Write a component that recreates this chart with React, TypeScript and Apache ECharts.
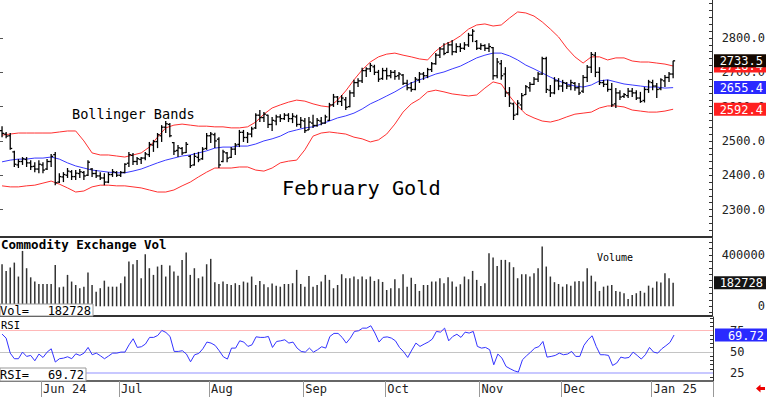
import React, { useEffect, useRef } from "react";
import * as echarts from "echarts";

// ---------- data ----------
const opens = [
  2530, 2520, 2515, 2468, 2430, 2440, 2446, 2436, 2426, 2418,
  2430, 2418, 2440, 2460, 2380, 2395, 2400, 2410, 2396, 2405,
  2408, 2400, 2418, 2405, 2398, 2392, 2380, 2402, 2408, 2400,
  2408, 2435, 2458, 2440, 2446, 2450, 2460, 2488, 2498, 2515,
  2540, 2548, 2495, 2472, 2478, 2466, 2455, 2430, 2452, 2448,
  2478, 2515, 2518, 2505, 2440, 2465, 2452, 2476, 2490, 2525,
  2510, 2520, 2538, 2575, 2568, 2575, 2548, 2558, 2570, 2565,
  2575, 2565, 2570, 2548, 2558, 2532, 2552, 2545, 2558, 2552,
  2560, 2605, 2628, 2615, 2620, 2600, 2640, 2670, 2675, 2705,
  2710, 2716, 2700, 2682, 2705, 2690, 2700, 2690, 2692, 2668,
  2655, 2650, 2678, 2695, 2690, 2708, 2725, 2750, 2768, 2758,
  2780, 2760, 2775, 2770, 2780, 2808, 2790, 2770, 2778, 2770,
  2772, 2690, 2725, 2695, 2640, 2608, 2578, 2605, 2635, 2655,
  2665, 2680, 2695, 2740, 2648, 2640, 2675, 2660, 2668, 2660,
  2668, 2655, 2645, 2685, 2715, 2750, 2700, 2670, 2665, 2650,
  2608, 2640, 2630, 2632, 2645, 2640, 2625, 2618, 2650, 2670,
  2660, 2652, 2675, 2685, 2695,
];
const highs = [
  2543, 2526, 2523, 2471, 2447, 2453, 2453, 2444, 2438, 2444,
  2438, 2447, 2462, 2468, 2406, 2409, 2421, 2415, 2415, 2418,
  2412, 2444, 2421, 2415, 2409, 2406, 2409, 2418, 2412, 2412,
  2435, 2468, 2465, 2453, 2453, 2468, 2497, 2503, 2523, 2546,
  2558, 2552, 2497, 2488, 2482, 2497, 2459, 2465, 2468, 2482,
  2523, 2526, 2524, 2511, 2474, 2468, 2482, 2494, 2532, 2532,
  2526, 2541, 2581, 2590, 2584, 2576, 2570, 2576, 2578, 2581,
  2581, 2581, 2576, 2570, 2567, 2570, 2576, 2567, 2570, 2576,
  2611, 2637, 2631, 2634, 2628, 2648, 2678, 2683, 2713, 2715,
  2727, 2722, 2707, 2713, 2713, 2707, 2707, 2701, 2695, 2678,
  2672, 2686, 2701, 2701, 2713, 2730, 2756, 2774, 2785, 2788,
  2794, 2785, 2785, 2788, 2815, 2826, 2794, 2785, 2782, 2785,
  2774, 2742, 2736, 2715, 2657, 2612, 2619, 2640, 2663, 2672,
  2686, 2701, 2745, 2745, 2663, 2686, 2683, 2678, 2672, 2678,
  2672, 2669, 2692, 2721, 2759, 2759, 2715, 2678, 2678, 2669,
  2654, 2648, 2640, 2654, 2654, 2648, 2643, 2657, 2678, 2678,
  2669, 2683, 2692, 2701, 2733.5,
];
const lows = [
  2511, 2508, 2474, 2424, 2421, 2430, 2424, 2415, 2409, 2406,
  2406, 2415, 2424, 2371, 2377, 2380, 2392, 2386, 2386, 2392,
  2386, 2398, 2395, 2392, 2386, 2371, 2377, 2395, 2395, 2395,
  2406, 2424, 2430, 2430, 2433, 2444, 2453, 2468, 2479, 2497,
  2523, 2511, 2459, 2453, 2459, 2465, 2421, 2428, 2438, 2445,
  2474, 2494, 2479, 2421, 2438, 2438, 2450, 2459, 2482, 2497,
  2494, 2511, 2535, 2555, 2555, 2538, 2529, 2546, 2555, 2561,
  2555, 2552, 2541, 2538, 2523, 2532, 2538, 2541, 2546, 2550,
  2558, 2599, 2605, 2602, 2590, 2598, 2628, 2657, 2669, 2686,
  2701, 2692, 2672, 2678, 2678, 2683, 2678, 2678, 2663, 2648,
  2643, 2648, 2669, 2678, 2683, 2701, 2722, 2742, 2750, 2756,
  2750, 2756, 2759, 2765, 2774, 2788, 2765, 2765, 2762, 2759,
  2678, 2683, 2678, 2628, 2599, 2561, 2575, 2590, 2634, 2643,
  2663, 2672, 2692, 2640, 2628, 2636, 2648, 2643, 2651, 2648,
  2646, 2634, 2640, 2672, 2698, 2686, 2663, 2657, 2643, 2599,
  2596, 2619, 2625, 2625, 2628, 2619, 2611, 2612, 2640, 2648,
  2625, 2648, 2657, 2672, 2683,
];
const closes = [
  2522, 2514, 2478, 2432, 2440, 2448, 2436, 2425, 2418, 2432,
  2415, 2440, 2455, 2378, 2396, 2402, 2412, 2396, 2406, 2410,
  2398, 2438, 2405, 2398, 2392, 2380, 2402, 2410, 2400, 2408,
  2432, 2460, 2440, 2448, 2450, 2462, 2490, 2498, 2518, 2540,
  2550, 2515, 2470, 2480, 2465, 2490, 2428, 2455, 2445, 2476,
  2515, 2520, 2500, 2430, 2468, 2450, 2476, 2488, 2525, 2510,
  2520, 2535, 2575, 2568, 2578, 2548, 2560, 2570, 2565, 2575,
  2565, 2572, 2548, 2560, 2530, 2555, 2545, 2560, 2552, 2570,
  2605, 2628, 2615, 2625, 2598, 2640, 2670, 2675, 2705, 2710,
  2720, 2700, 2680, 2705, 2690, 2700, 2688, 2695, 2668, 2655,
  2650, 2680, 2695, 2690, 2708, 2725, 2750, 2768, 2755, 2780,
  2760, 2775, 2770, 2780, 2808, 2820, 2770, 2778, 2770, 2775,
  2690, 2730, 2690, 2640, 2610, 2575, 2610, 2632, 2658, 2665,
  2680, 2695, 2740, 2650, 2640, 2675, 2660, 2670, 2660, 2670,
  2655, 2640, 2685, 2715, 2752, 2700, 2670, 2665, 2650, 2605,
  2640, 2628, 2635, 2645, 2640, 2625, 2615, 2650, 2672, 2660,
  2650, 2678, 2685, 2695, 2733.5,
];
const volumes = [
  328000, 276000, 302000, 341000, 232000, 432000, 297000, 226000, 193000, 174000,
  174000, 174000, 174000, 323000, 148000, 153000, 245000, 193000, 166000, 141000,
  153000, 263000, 166000, 114000, 141000, 200000, 153000, 153000, 153000, 180000,
  232000, 349000, 328000, 362000, 219000, 406000, 297000, 245000, 310000, 323000,
  232000, 318000, 271000, 239000, 362000, 419000, 245000, 297000, 219000, 232000,
  328000, 370000, 188000, 174000, 193000, 174000, 166000, 180000, 166000, 193000,
  185000, 232000, 166000, 198000, 172000, 148000, 177000, 161000, 153000, 174000,
  174000, 180000, 284000, 174000, 153000, 237000, 153000, 166000, 193000, 245000,
  206000, 141000, 166000, 250000, 219000, 219000, 232000, 211000, 232000, 211000,
  232000, 198000, 211000, 190000, 127000, 141000, 211000, 141000, 250000, 153000,
  223000, 174000, 120000, 166000, 166000, 193000, 193000, 219000, 180000, 226000,
  193000, 153000, 172000, 232000, 211000, 276000, 206000, 159000, 180000, 414000,
  380000, 315000, 362000, 362000, 344000, 305000, 219000, 250000, 250000, 232000,
  258000, 297000, 466000, 310000, 232000, 188000, 174000, 153000, 172000, 161000,
  193000, 198000, 193000, 297000, 239000, 193000, 120000, 153000, 161000, 166000,
  120000, 114000, 102000, 57000, 88000, 102000, 120000, 106000, 161000, 145000,
  193000, 185000, 258000, 219000, 182728,
];
const rsiValues = [
  70.8, 66, 48.4, 41.8, 41.8, 49.6, 44.5, 45.7, 39.4, 47.3,
  43.3, 49.6, 53.5, 37.9, 41.8, 42.5, 44.1, 41.8, 47.6, 45.7,
  48.4, 55.1, 46.5, 48.4, 45.3, 41.8, 45, 48.4, 48.4, 49.6,
  49.6, 58.2, 65.3, 55.1, 55.9, 59.1, 66.9, 66.9, 69.2, 75.1,
  72.7, 68, 50.4, 50.4, 51.2, 47.3, 38.2, 46.5, 48, 53.5,
  61.4, 60.2, 57.5, 51.2, 44.1, 41.4, 54.3, 54.3, 62.9, 61.4,
  56.3, 58.2, 67.6, 66.9, 66.9, 68, 55.1, 62.1, 62.9, 64.1,
  60.2, 61.4, 54.3, 50.4, 49.6, 54.3, 49.6, 52.4, 55.9, 54.3,
  68, 71.6, 71.6, 66.9, 60.2, 66.1, 73.9, 74.7, 77.8, 77.8,
  80.6, 72, 61.4, 66.9, 67.5, 66.1, 62.9, 55, 50, 43.3,
  52, 60.2, 56.3, 59, 61.4, 64.9, 73.9, 73.1, 77.8, 62.9,
  68, 70.6, 66.9, 73.1, 72, 73.9, 56.3, 54.3, 55.1, 52.4,
  34.7, 47.3, 42.5, 32.7, 30, 27.6, 26.1, 40.6, 45.3, 49.6,
  54.3, 56, 62.1, 43.7, 44.5, 45.7, 48.4, 46.5, 47.3, 50.4,
  44.5, 44.5, 57.5, 64.1, 68.8, 56.3, 46.5, 46.5, 45.7, 33.9,
  36.7, 43.7, 42.5, 43.3, 49.6, 45.7, 41.4, 46.5, 55.1, 49.6,
  48.4, 53.5, 57.1, 61, 69.72,
];
// Bollinger bands, read every second bar (BAND_STEP)
const BAND_STEP = 2;
const upperBand = [
  2517, 2520, 2523, 2523, 2523, 2523, 2523, 2526, 2529, 2529,
  2500, 2465, 2459, 2459, 2456, 2453, 2459, 2465, 2482, 2511,
  2538, 2546, 2549, 2546, 2543, 2543, 2541, 2541, 2538, 2538,
  2541, 2555, 2578, 2596, 2605, 2613, 2619, 2616, 2608, 2602,
  2599, 2619, 2646, 2678, 2707, 2730, 2745, 2753, 2756, 2750,
  2745, 2739, 2736, 2762, 2780, 2791, 2806, 2826, 2838, 2841,
  2835, 2838, 2858, 2876, 2873, 2864, 2847, 2826, 2803, 2771,
  2745, 2727, 2745, 2745, 2736, 2742, 2742, 2733, 2730, 2730,
  2727, 2724, 2718.4,
];
const middleBand = [
  2439, 2444, 2447, 2447, 2450, 2450, 2453, 2447, 2436, 2427,
  2421, 2415, 2412, 2409, 2407, 2407, 2412, 2418, 2427, 2436,
  2444, 2450, 2456, 2459, 2465, 2471, 2479, 2482, 2482, 2485,
  2485, 2491, 2500, 2506, 2514, 2526, 2532, 2538, 2541, 2549,
  2558, 2567, 2573, 2581, 2593, 2608, 2619, 2631, 2643, 2657,
  2669, 2678, 2686, 2695, 2701, 2710, 2718, 2730, 2742, 2750,
  2756, 2756, 2748, 2736, 2721, 2710, 2698, 2686, 2675, 2666,
  2660, 2657, 2663, 2675, 2678, 2672, 2666, 2663, 2660, 2657,
  2657, 2654, 2655.4,
];
const lowerBand = [
  2369, 2366, 2366, 2369, 2371, 2377, 2383, 2374, 2363, 2351,
  2354, 2366, 2371, 2371, 2369, 2369, 2366, 2363, 2357, 2351,
  2351, 2357, 2369, 2380, 2395, 2409, 2421, 2421, 2421, 2424,
  2424, 2415, 2412, 2421, 2436, 2441, 2444, 2474, 2514, 2523,
  2526, 2523, 2520, 2511, 2506, 2497, 2503, 2520, 2549, 2584,
  2608, 2622, 2643, 2648, 2643, 2637, 2634, 2631, 2634, 2654,
  2672, 2666, 2631, 2602, 2578, 2567, 2558, 2555, 2561, 2570,
  2578, 2581, 2584, 2596, 2602, 2602, 2599, 2590, 2587, 2584,
  2584, 2587, 2592.4,
];
const monthLabels = ["Jun 24", "Jul", "Aug", "Sep", "Oct", "Nov", "Dec", "Jan 25"];
const monthStartIdx = [10, 29, 51, 74, 94, 117, 137, 159];
const priceTicks = [2300, 2400, 2500, 2600, 2700, 2800];
const volumeTicks = [0, 400000];
const rsiTicks = [25, 50, 75];

// ---------- layout / style ----------
const SLOTS = 174;
const MONO = '"DejaVu Sans Mono", monospace';
const last = (a: number[]) => a[a.length - 1];

const categories = Array.from({ length: SLOTS }, (_, i) => String(i));
const ohlc = closes.map((c, i) => [i, opens[i], highs[i], lows[i], c]);
const bandData = (arr: number[]) => arr.map((v, k) => [k * BAND_STEP, v]);
const isMonthStart = (idx: number) => monthStartIdx.indexOf(idx) >= 0;

const priceMinor = Array.from({ length: 34 }, (_, k) => 2240 + 20 * k);
const volMinor = Array.from({ length: 12 }, (_, k) => -50000 + 50000 * k);
const rsiMinor = Array.from({ length: 15 }, (_, k) => 20 + 5 * k);

const tag = (value: number, text: string, bg: string) => ({
  yAxis: value,
  lineStyle: { color: "rgba(0,0,0,0)", width: 0 },
  label: {
    show: true,
    position: "end",
    distance: 2,
    opacity: 1,
    formatter: "{t|" + text + "}",
    rich: {
      t: {
        width: 46,
        align: "right",
        color: "#fff",
        backgroundColor: bg,
        padding: [1, 3, 0, 3],
        fontFamily: MONO,
        fontSize: 12,
        lineHeight: 12,
      },
    },
  },
});

const guide = (value: number, color: string, width: number) => ({
  yAxis: value,
  label: { show: false },
  lineStyle: { color, width, type: "solid" },
});

const hiddenX = (gridIndex: number) => ({
  gridIndex,
  type: "category",
  data: categories,
  boundaryGap: true,
  axisLine: { show: true, onZero: false, lineStyle: { color: "#333", width: 2 } },
  axisTick: { show: false },
  axisLabel: { show: false },
  splitLine: { show: false },
});

const rightLabel = {
  fontFamily: MONO,
  fontSize: 12,
  color: "#222",
};

function renderOHLC(params: any, api: any) {
  const x = api.value(0);
  const o = api.coord([x, api.value(1)]);
  const h = api.coord([x, api.value(2)]);
  const l = api.coord([x, api.value(3)]);
  const c = api.coord([x, api.value(4)]);
  const style = { stroke: "#000", lineWidth: 1.3 };
  return {
    type: "group",
    children: [
      { type: "line", shape: { x1: h[0], y1: h[1], x2: l[0], y2: l[1] }, style },
      { type: "line", shape: { x1: o[0] - 2, y1: o[1], x2: o[0], y2: o[1] }, style },
      { type: "line", shape: { x1: c[0], y1: c[1], x2: c[0] + 2, y2: c[1] }, style },
    ],
  };
}

const lastVol = last(volumes);
const lastRsi = last(rsiValues);

const option: any = {
  animation: false,
  backgroundColor: "#fff",
  grid: [
    { left: -1.35, right: 55, top: 0, height: 237 },
    { left: -1.35, right: 55, top: 238, height: 78 },
    { left: -1.35, right: 55, top: 317, height: 64 },
  ],
  xAxis: [
    hiddenX(0),
    hiddenX(1),
    {
      gridIndex: 2,
      type: "category",
      data: categories,
      boundaryGap: true,
      axisLine: { show: true, onZero: false, lineStyle: { color: "#333", width: 1.5 } },
      axisTick: {
        show: true,
        interval: (idx: number) => isMonthStart(idx),
        length: 16,
        lineStyle: { color: "#999", width: 1 },
      },
      axisLabel: {
        show: true,
        interval: (idx: number) => isMonthStart(idx),
        formatter: (v: string) => {
          const k = monthStartIdx.indexOf(Number(v));
          return k >= 0 ? monthLabels[k] : "";
        },
        align: "left",
        margin: 2,
        fontFamily: MONO,
        fontSize: 12,
        color: "#222",
      },
      splitLine: { show: false },
    },
  ],
  yAxis: [
    {
      gridIndex: 0,
      type: "value",
      position: "right",
      min: 2219.9,
      max: 2910.8,
      splitLine: { show: false },
      axisLine: { show: true, lineStyle: { color: "#333" } },
      axisTick: { show: true, inside: true, length: 3, customValues: priceMinor, lineStyle: { color: "#333" } },
      axisLabel: {
        ...rightLabel,
        customValues: priceTicks,
        formatter: (v: number) => v.toFixed(1),
        align: "right",
        margin: 53,
      },
    },
    {
      gridIndex: 1,
      type: "value",
      position: "right",
      min: -75781,
      max: 532800,
      splitLine: { show: false },
      axisLine: { show: true, lineStyle: { color: "#333" } },
      axisTick: { show: true, inside: true, length: 3, customValues: volMinor, lineStyle: { color: "#333" } },
      axisLabel: {
        ...rightLabel,
        customValues: volumeTicks,
        formatter: (v: number) => String(v),
        align: "right",
        margin: 53,
      },
    },
    {
      gridIndex: 2,
      type: "value",
      position: "right",
      min: 15.6,
      max: 90.9,
      splitLine: { show: false },
      axisLine: { show: true, lineStyle: { color: "#333" } },
      axisTick: { show: true, inside: true, length: 3, customValues: rsiMinor, lineStyle: { color: "#333" } },
      axisLabel: {
        ...rightLabel,
        customValues: rsiTicks,
        formatter: (v: number) => String(v),
        align: "left",
        margin: 17,
      },
    },
    {
      gridIndex: 0,
      type: "value",
      position: "left",
      min: 2219.9,
      max: 2910.8,
      splitLine: { show: false },
      axisLine: { show: false },
      axisTick: { show: true, inside: true, length: 3, customValues: priceTicks, lineStyle: { color: "#555" } },
      axisLabel: { show: false },
    },
  ],
  series: [
    {
      name: "upper",
      type: "line",
      xAxisIndex: 0,
      yAxisIndex: 0,
      data: bandData(upperBand),
      symbol: "none",
      lineStyle: { color: "#ff3030", width: 1 },
      z: 2,
    },
    {
      name: "middle",
      type: "line",
      xAxisIndex: 0,
      yAxisIndex: 0,
      data: bandData(middleBand),
      symbol: "none",
      lineStyle: { color: "#3a3aff", width: 1 },
      z: 2,
    },
    {
      name: "lower",
      type: "line",
      xAxisIndex: 0,
      yAxisIndex: 0,
      data: bandData(lowerBand),
      symbol: "none",
      lineStyle: { color: "#ff3030", width: 1 },
      z: 2,
      markLine: {
        silent: true,
        symbol: "none",
        data: [
          tag(last(lowerBand), last(lowerBand).toFixed(1), "#ff2020"),
          tag(last(middleBand), last(middleBand).toFixed(1), "#2a2aff"),
          tag(last(upperBand), last(upperBand).toFixed(1), "#ff2020"),
          tag(last(closes), last(closes).toFixed(1), "#140800"),
        ],
      },
    },
    {
      name: "price",
      type: "custom",
      xAxisIndex: 0,
      yAxisIndex: 0,
      renderItem: renderOHLC,
      encode: { x: 0, y: [1, 2, 3, 4] },
      data: ohlc,
      z: 3,
    },
    {
      name: "volume",
      type: "bar",
      xAxisIndex: 1,
      yAxisIndex: 1,
      data: volumes,
      barWidth: 1.5,
      itemStyle: { color: "#333" },
      markLine: {
        silent: true,
        symbol: "none",
        data: [tag(lastVol, String(lastVol), "#141414")],
      },
    },
    {
      name: "rsiGuides",
      type: "line",
      xAxisIndex: 2,
      yAxisIndex: 2,
      data: [],
      z: 1,
      markLine: {
        silent: true,
        symbol: "none",
        z: 1,
        data: [guide(75, "#ffb8b8", 1), guide(50, "#c4c4c4", 1), guide(25, "#c8c8ff", 2)],
      },
    },
    {
      name: "rsi",
      type: "line",
      xAxisIndex: 2,
      yAxisIndex: 2,
      data: rsiValues,
      symbol: "none",
      lineStyle: { color: "#3333ff", width: 1 },
      z: 3,
      markLine: {
        silent: true,
        symbol: "none",
        data: [tag(lastRsi, lastRsi.toFixed(2), "#2a2aff")],
      },
    },
  ],
  graphic: [
    {
      type: "text",
      x: 72,
      y: 114,
      z: 20,
      style: { text: "Bollinger Bands", font: "13.6px " + MONO, fill: "#000", verticalAlign: "middle" },
    },
    {
      type: "text",
      x: 282,
      y: 188,
      z: 20,
      style: { text: "February Gold", font: "20.3px " + MONO, fill: "#000", verticalAlign: "middle" },
    },
    {
      type: "text",
      x: 1,
      y: 244,
      z: 20,
      style: { text: "Commodity Exchange Vol", font: "bold 12.5px " + MONO, fill: "#000", verticalAlign: "middle" },
    },
    {
      type: "text",
      x: 597,
      y: 257,
      z: 20,
      style: { text: "Volume", font: "10px " + MONO, fill: "#000", verticalAlign: "middle" },
    },
    {
      type: "rect",
      z: 19,
      shape: { x: 0, y: 304, width: 93, height: 12 },
      style: { fill: "#fff", stroke: "#999", lineWidth: 1 },
    },
    {
      type: "text",
      x: 0,
      y: 310.5,
      z: 20,
      style: { text: "Vol=", font: "12px " + MONO, fill: "#000", verticalAlign: "middle" },
    },
    {
      type: "text",
      x: 91,
      y: 310.5,
      z: 20,
      style: { text: String(lastVol), font: "12px " + MONO, fill: "#000", verticalAlign: "middle", align: "right" },
    },
    {
      type: "text",
      x: 1,
      y: 325,
      z: 20,
      style: { text: "RSI", font: "10.5px " + MONO, fill: "#000", verticalAlign: "middle" },
    },
    {
      type: "rect",
      z: 19,
      shape: { x: 0, y: 368, width: 86, height: 13 },
      style: { fill: "#fff", stroke: "#999", lineWidth: 1 },
    },
    {
      type: "text",
      x: 0,
      y: 375,
      z: 20,
      style: { text: "RSI=", font: "12px " + MONO, fill: "#000", verticalAlign: "middle" },
    },
    {
      type: "text",
      x: 84,
      y: 375,
      z: 20,
      style: { text: lastRsi.toFixed(2), font: "12px " + MONO, fill: "#000", verticalAlign: "middle", align: "right" },
    },
    {
      type: "polygon",
      z: 20,
      shape: {
        points: [
          [756, 388.5],
          [760.5, 384.5],
          [760.5, 387],
          [765, 387],
          [765, 390],
          [760.5, 390],
          [760.5, 392.5],
        ],
      },
      style: { fill: "#ee0000" },
    },
  ],
};

export default function App() {
  const ref = useRef<HTMLDivElement>(null);
  useEffect(() => {
    if (!ref.current) return;
    const chart = echarts.init(ref.current, null, { renderer: "svg" });
    chart.setOption(option);
    return () => chart.dispose();
  }, []);
  return (
    <div
      ref={ref}
      style={{ position: "fixed", left: 0, top: 0, width: 768, height: 397, background: "#fff" }}
    />
  );
}
